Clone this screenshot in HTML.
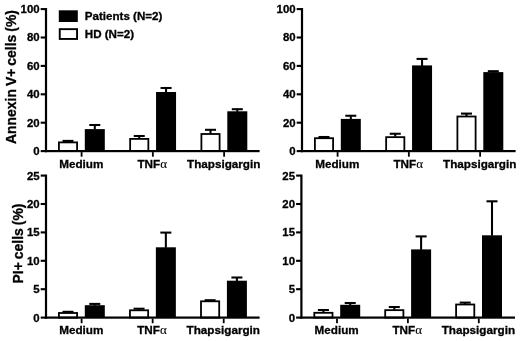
<!DOCTYPE html>
<html><head><meta charset="utf-8"><title>chart</title>
<style>
html,body{margin:0;padding:0;background:#fff;}
svg{display:block;filter:blur(0.4px);}
.t{font-family:"Liberation Sans",sans-serif;font-weight:bold;font-size:11.4px;fill:#000;stroke:#000;stroke-width:0.3px;}
.x{font-size:11.7px;}
.l{font-size:11.6px;}
.a{font-family:"Liberation Serif",serif;font-weight:normal;font-size:13.0px;stroke-width:0.1px;}
.y{font-family:"Liberation Sans",sans-serif;font-weight:bold;font-size:13.9px;fill:#000;word-spacing:-0.8px;stroke:#000;stroke-width:0.3px;}
</style></head>
<body>
<svg width="520" height="341" viewBox="0 0 520 341">
<rect x="0" y="0" width="520" height="341" fill="#fff"/>
<rect x="40.70" y="8.05" width="5.00" height="2.10" fill="#000" />
<text x="39.60" y="13.00" text-anchor="end" class="t">100</text>
<rect x="40.70" y="36.45" width="5.00" height="2.10" fill="#000" />
<text x="39.60" y="41.40" text-anchor="end" class="t">80</text>
<rect x="40.70" y="64.85" width="5.00" height="2.10" fill="#000" />
<text x="39.60" y="69.80" text-anchor="end" class="t">60</text>
<rect x="40.70" y="93.25" width="5.00" height="2.10" fill="#000" />
<text x="39.60" y="98.20" text-anchor="end" class="t">40</text>
<rect x="40.70" y="121.65" width="5.00" height="2.10" fill="#000" />
<text x="39.60" y="126.60" text-anchor="end" class="t">20</text>
<rect x="40.70" y="150.05" width="5.00" height="2.10" fill="#000" />
<text x="39.60" y="155.00" text-anchor="end" class="t">0</text>
<rect x="66.97" y="140.90" width="2.05" height="1.10" fill="#000" />
<rect x="62.50" y="139.88" width="11.00" height="2.05" fill="#000" />
<rect x="93.77" y="125.00" width="2.05" height="4.60" fill="#000" />
<rect x="89.30" y="123.97" width="11.00" height="2.05" fill="#000" />
<rect x="58.90" y="142.40" width="18.20" height="8.70" fill="#fff" stroke="#000" stroke-width="1.8"/>
<rect x="84.80" y="129.10" width="20.00" height="22.00" fill="#000" />
<rect x="80.70" y="152.10" width="1.80" height="4.60" fill="#000" />
<rect x="138.22" y="136.00" width="2.05" height="2.50" fill="#000" />
<rect x="133.75" y="134.97" width="11.00" height="2.05" fill="#000" />
<rect x="165.03" y="88.00" width="2.05" height="4.50" fill="#000" />
<rect x="160.55" y="86.97" width="11.00" height="2.05" fill="#000" />
<rect x="130.15" y="138.90" width="18.20" height="12.20" fill="#fff" stroke="#000" stroke-width="1.8"/>
<rect x="156.05" y="92.00" width="20.00" height="59.10" fill="#000" />
<rect x="151.95" y="152.10" width="1.80" height="4.60" fill="#000" />
<rect x="209.47" y="129.80" width="2.05" height="3.80" fill="#000" />
<rect x="205.00" y="128.78" width="11.00" height="2.05" fill="#000" />
<rect x="236.28" y="109.20" width="2.05" height="2.60" fill="#000" />
<rect x="231.80" y="108.17" width="11.00" height="2.05" fill="#000" />
<rect x="201.40" y="134.00" width="18.20" height="17.10" fill="#fff" stroke="#000" stroke-width="1.8"/>
<rect x="227.30" y="111.30" width="20.00" height="39.80" fill="#000" />
<rect x="223.20" y="152.10" width="1.80" height="4.60" fill="#000" />
<rect x="44.90" y="8.05" width="2.20" height="144.15" fill="#000" />
<rect x="44.90" y="150.00" width="214.70" height="2.20" fill="#000" />
<text x="81.30" y="167.80" text-anchor="middle" class="t x">Medium</text>
<text x="152.20" y="167.80" text-anchor="middle" class="t x">TNF<tspan class="a">α</tspan></text>
<text x="223.70" y="167.80" text-anchor="middle" class="t x">Thapsigargin</text>
<rect x="296.70" y="8.05" width="5.00" height="2.10" fill="#000" />
<text x="295.60" y="13.00" text-anchor="end" class="t">100</text>
<rect x="296.70" y="36.45" width="5.00" height="2.10" fill="#000" />
<text x="295.60" y="41.40" text-anchor="end" class="t">80</text>
<rect x="296.70" y="64.85" width="5.00" height="2.10" fill="#000" />
<text x="295.60" y="69.80" text-anchor="end" class="t">60</text>
<rect x="296.70" y="93.25" width="5.00" height="2.10" fill="#000" />
<text x="295.60" y="98.20" text-anchor="end" class="t">40</text>
<rect x="296.70" y="121.65" width="5.00" height="2.10" fill="#000" />
<text x="295.60" y="126.60" text-anchor="end" class="t">20</text>
<rect x="296.70" y="150.05" width="5.00" height="2.10" fill="#000" />
<text x="295.60" y="155.00" text-anchor="end" class="t">0</text>
<rect x="322.98" y="137.00" width="2.05" height="0.80" fill="#000" />
<rect x="318.50" y="135.97" width="11.00" height="2.05" fill="#000" />
<rect x="349.78" y="115.75" width="2.05" height="3.65" fill="#000" />
<rect x="345.30" y="114.72" width="11.00" height="2.05" fill="#000" />
<rect x="314.90" y="138.20" width="18.20" height="12.90" fill="#fff" stroke="#000" stroke-width="1.8"/>
<rect x="340.80" y="118.90" width="20.00" height="32.20" fill="#000" />
<rect x="336.70" y="152.10" width="1.80" height="4.60" fill="#000" />
<rect x="394.23" y="133.75" width="2.05" height="3.00" fill="#000" />
<rect x="389.75" y="132.72" width="11.00" height="2.05" fill="#000" />
<rect x="421.03" y="58.90" width="2.05" height="7.00" fill="#000" />
<rect x="416.55" y="57.88" width="11.00" height="2.05" fill="#000" />
<rect x="386.15" y="137.15" width="18.20" height="13.95" fill="#fff" stroke="#000" stroke-width="1.8"/>
<rect x="412.05" y="65.40" width="20.00" height="85.70" fill="#000" />
<rect x="407.95" y="152.10" width="1.80" height="4.60" fill="#000" />
<rect x="465.48" y="113.60" width="2.05" height="2.50" fill="#000" />
<rect x="461.00" y="112.57" width="11.00" height="2.05" fill="#000" />
<rect x="492.28" y="71.20" width="2.05" height="1.40" fill="#000" />
<rect x="487.80" y="70.17" width="11.00" height="2.05" fill="#000" />
<rect x="457.40" y="116.50" width="18.20" height="34.60" fill="#fff" stroke="#000" stroke-width="1.8"/>
<rect x="483.30" y="72.10" width="20.00" height="79.00" fill="#000" />
<rect x="479.20" y="152.10" width="1.80" height="4.60" fill="#000" />
<rect x="300.90" y="8.05" width="2.20" height="144.15" fill="#000" />
<rect x="300.90" y="150.00" width="214.70" height="2.20" fill="#000" />
<text x="337.30" y="167.80" text-anchor="middle" class="t x">Medium</text>
<text x="408.20" y="167.80" text-anchor="middle" class="t x">TNF<tspan class="a">α</tspan></text>
<text x="479.70" y="167.80" text-anchor="middle" class="t x">Thapsigargin</text>
<rect x="40.70" y="174.55" width="5.00" height="2.10" fill="#000" />
<text x="39.60" y="179.50" text-anchor="end" class="t">25</text>
<rect x="40.70" y="202.95" width="5.00" height="2.10" fill="#000" />
<text x="39.60" y="207.90" text-anchor="end" class="t">20</text>
<rect x="40.70" y="231.35" width="5.00" height="2.10" fill="#000" />
<text x="39.60" y="236.30" text-anchor="end" class="t">15</text>
<rect x="40.70" y="259.75" width="5.00" height="2.10" fill="#000" />
<text x="39.60" y="264.70" text-anchor="end" class="t">10</text>
<rect x="40.70" y="288.15" width="5.00" height="2.10" fill="#000" />
<text x="39.60" y="293.10" text-anchor="end" class="t">5</text>
<rect x="40.70" y="316.55" width="5.00" height="2.10" fill="#000" />
<text x="39.60" y="321.50" text-anchor="end" class="t">0</text>
<rect x="66.97" y="311.80" width="2.05" height="0.80" fill="#000" />
<rect x="62.50" y="310.78" width="11.00" height="2.05" fill="#000" />
<rect x="93.77" y="303.90" width="2.05" height="1.80" fill="#000" />
<rect x="89.30" y="302.88" width="11.00" height="2.05" fill="#000" />
<rect x="58.90" y="313.00" width="18.20" height="4.60" fill="#fff" stroke="#000" stroke-width="1.8"/>
<rect x="84.80" y="305.20" width="20.00" height="12.40" fill="#000" />
<rect x="80.70" y="318.60" width="1.80" height="4.60" fill="#000" />
<rect x="138.03" y="308.70" width="2.05" height="1.20" fill="#000" />
<rect x="133.55" y="307.68" width="11.00" height="2.05" fill="#000" />
<rect x="164.82" y="232.60" width="2.05" height="15.20" fill="#000" />
<rect x="160.35" y="231.57" width="11.00" height="2.05" fill="#000" />
<rect x="129.95" y="310.30" width="18.20" height="7.30" fill="#fff" stroke="#000" stroke-width="1.8"/>
<rect x="155.85" y="247.30" width="20.00" height="70.30" fill="#000" />
<rect x="151.75" y="318.60" width="1.80" height="4.60" fill="#000" />
<rect x="209.07" y="300.20" width="2.05" height="0.70" fill="#000" />
<rect x="204.60" y="299.18" width="11.00" height="2.05" fill="#000" />
<rect x="235.87" y="277.50" width="2.05" height="3.70" fill="#000" />
<rect x="231.40" y="276.48" width="11.00" height="2.05" fill="#000" />
<rect x="201.00" y="301.30" width="18.20" height="16.30" fill="#fff" stroke="#000" stroke-width="1.8"/>
<rect x="226.90" y="280.70" width="20.00" height="36.90" fill="#000" />
<rect x="222.80" y="318.60" width="1.80" height="4.60" fill="#000" />
<rect x="44.90" y="174.55" width="2.20" height="144.15" fill="#000" />
<rect x="44.90" y="316.50" width="214.70" height="2.20" fill="#000" />
<text x="81.30" y="334.00" text-anchor="middle" class="t x">Medium</text>
<text x="152.00" y="334.00" text-anchor="middle" class="t x">TNF<tspan class="a">α</tspan></text>
<text x="223.30" y="334.00" text-anchor="middle" class="t x">Thapsigargin</text>
<rect x="296.10" y="174.55" width="5.00" height="2.10" fill="#000" />
<text x="295.00" y="179.50" text-anchor="end" class="t">25</text>
<rect x="296.10" y="202.95" width="5.00" height="2.10" fill="#000" />
<text x="295.00" y="207.90" text-anchor="end" class="t">20</text>
<rect x="296.10" y="231.35" width="5.00" height="2.10" fill="#000" />
<text x="295.00" y="236.30" text-anchor="end" class="t">15</text>
<rect x="296.10" y="259.75" width="5.00" height="2.10" fill="#000" />
<text x="295.00" y="264.70" text-anchor="end" class="t">10</text>
<rect x="296.10" y="288.15" width="5.00" height="2.10" fill="#000" />
<text x="295.00" y="293.10" text-anchor="end" class="t">5</text>
<rect x="296.10" y="316.55" width="5.00" height="2.10" fill="#000" />
<text x="295.00" y="321.50" text-anchor="end" class="t">0</text>
<rect x="322.38" y="310.00" width="2.05" height="2.40" fill="#000" />
<rect x="317.90" y="308.98" width="11.00" height="2.05" fill="#000" />
<rect x="349.18" y="303.00" width="2.05" height="2.30" fill="#000" />
<rect x="344.70" y="301.98" width="11.00" height="2.05" fill="#000" />
<rect x="314.30" y="312.80" width="18.20" height="4.80" fill="#fff" stroke="#000" stroke-width="1.8"/>
<rect x="340.20" y="304.80" width="20.00" height="12.80" fill="#000" />
<rect x="336.10" y="318.60" width="1.80" height="4.60" fill="#000" />
<rect x="393.28" y="307.00" width="2.05" height="2.75" fill="#000" />
<rect x="388.80" y="305.98" width="11.00" height="2.05" fill="#000" />
<rect x="420.08" y="236.40" width="2.05" height="13.50" fill="#000" />
<rect x="415.60" y="235.38" width="11.00" height="2.05" fill="#000" />
<rect x="385.20" y="310.15" width="18.20" height="7.45" fill="#fff" stroke="#000" stroke-width="1.8"/>
<rect x="411.10" y="249.40" width="20.00" height="68.20" fill="#000" />
<rect x="407.00" y="318.60" width="1.80" height="4.60" fill="#000" />
<rect x="464.18" y="302.60" width="2.05" height="1.50" fill="#000" />
<rect x="459.70" y="301.58" width="11.00" height="2.05" fill="#000" />
<rect x="490.98" y="201.30" width="2.05" height="34.50" fill="#000" />
<rect x="486.50" y="200.28" width="11.00" height="2.05" fill="#000" />
<rect x="456.10" y="304.50" width="18.20" height="13.10" fill="#fff" stroke="#000" stroke-width="1.8"/>
<rect x="482.00" y="235.30" width="20.00" height="82.30" fill="#000" />
<rect x="477.90" y="318.60" width="1.80" height="4.60" fill="#000" />
<rect x="300.30" y="174.55" width="2.20" height="144.15" fill="#000" />
<rect x="300.30" y="316.50" width="214.70" height="2.20" fill="#000" />
<text x="336.70" y="334.00" text-anchor="middle" class="t x">Medium</text>
<text x="407.25" y="334.00" text-anchor="middle" class="t x">TNF<tspan class="a">α</tspan></text>
<text x="478.40" y="334.00" text-anchor="middle" class="t x">Thapsigargin</text>
<rect x="58.80" y="10.30" width="19.00" height="11.70" fill="#000" />
<rect x="59.75" y="29.15" width="17.3" height="9.8" fill="#fff" stroke="#000" stroke-width="1.9"/>
<text x="84.8" y="20.35" class="t l">Patients (N=2)</text>
<text x="84.8" y="37.6" class="t l">HD (N=2)</text>
<text transform="translate(15.7,77.0) rotate(-90)" text-anchor="middle" class="y">Annexin V+ cells (%)</text>
<text transform="translate(22.8,243.5) rotate(-90)" text-anchor="middle" class="y">PI+ cells (%)</text>
</svg>
</body></html>
